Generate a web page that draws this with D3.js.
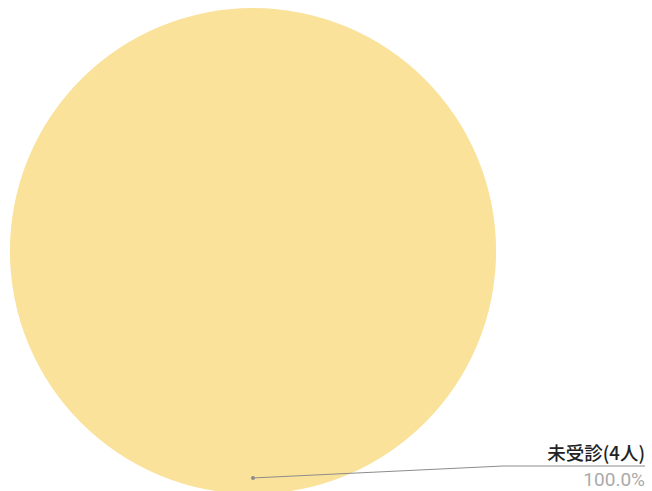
<!DOCTYPE html>
<html>
<head>
<meta charset="utf-8">
<script src="https://cdn.jsdelivr.net/npm/d3@7"></script>
<style>
  html, body { margin: 0; padding: 0; background: #fff; }
  svg { display: block; }
</style>
</head>
<body>
<div id="chart"></div>
<script>
// データ
const categories = ['未受診'];
const counts = [4];
const colors = ['#FAE29B'];

const width = 652;
const height = 491;
const cx = 253, cy = 251, radius = 243;

const svg = d3.select('#chart')
    .append('svg')
    .attr('width', width)
    .attr('height', height);

const data = categories.map((c, i) => ({ name: c, value: counts[i], color: colors[i] }));
const total = d3.sum(counts);

const pie = d3.pie().value(d => d.value).sort(null);
const arc = d3.arc().innerRadius(0).outerRadius(radius);
const pointArc = d3.arc().innerRadius(radius * 0.934).outerRadius(radius * 0.934);

const g = svg.append('g').attr('transform', `translate(${cx},${cy})`);
const arcs = pie(data);

// 扇形
g.selectAll('path')
    .data(arcs)
    .enter().append('path')
    .attr('d', arc)
    .attr('fill', d => d.data.color);

// ラベル
const labelRight = 645;
arcs.forEach(d => {
    const [px, py] = pointArc.centroid(d);
    const sx = cx + px, sy = cy + py;
    const ly = 466;
    const elbowX = 503;

    svg.append('polyline')
        .attr('points', `${sx},${sy} ${elbowX},${ly} ${labelRight},${ly}`)
        .attr('fill', 'none')
        .attr('stroke', '#8c8c8c')
        .attr('stroke-width', 1);

    svg.append('circle')
        .attr('cx', sx)
        .attr('cy', sy)
        .attr('r', 2)
        .attr('fill', '#8c8c8c');

    svg.append('text')
        .attr('x', labelRight)
        .attr('y', 460)
        .attr('text-anchor', 'end')
        .attr('font-family', '"Noto Sans CJK JP", "Noto Sans", sans-serif')
        .attr('font-size', 18.5)
        .attr('font-weight', 500)
        .attr('fill', '#222')
        .text(`${d.data.name}(${d.data.value}人)`);

    svg.append('text')
        .attr('x', labelRight)
        .attr('y', 486)
        .attr('text-anchor', 'end')
        .attr('font-family', 'Roboto, "Noto Sans", sans-serif')
        .attr('font-size', 19)
        .attr('fill', '#aaa')
        .text(`${(d.data.value / total * 100).toFixed(1)}%`);
});
</script>
</body>
</html>
